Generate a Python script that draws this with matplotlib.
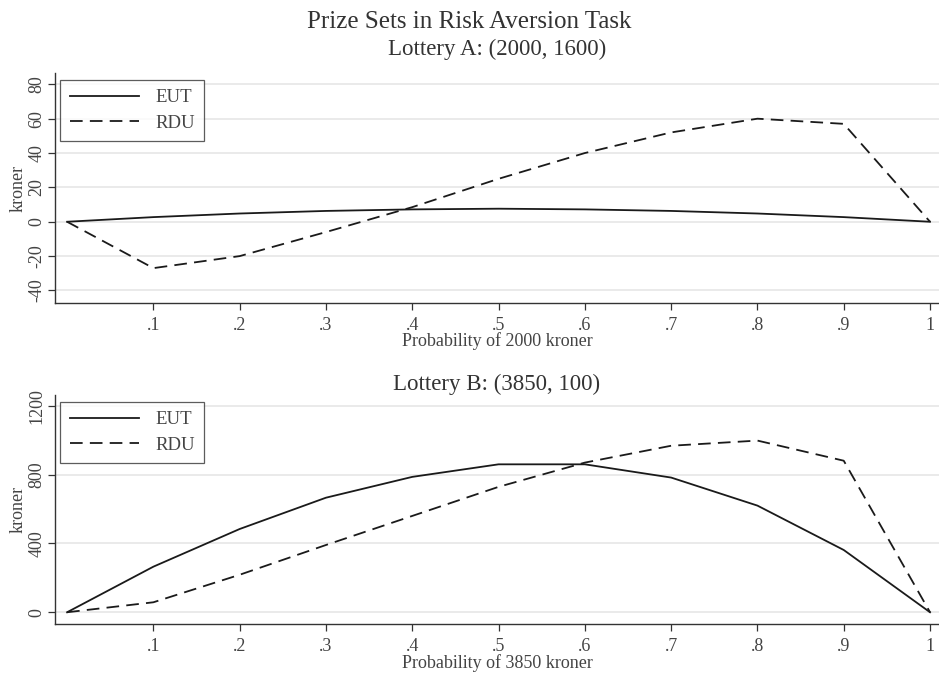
import numpy as np
import matplotlib
matplotlib.use('Agg')
import matplotlib.pyplot as plt

plt.rcParams['font.family'] = ['Liberation Serif', 'DejaVu Serif']

#-------------------------------------------------------------------------------
# Data
#-------------------------------------------------------------------------------
prob      = [0, .1, .2, .3, .4, .5, .6, .7, .8, .9, 1]
a_eut     = [0, 2.7, 4.8, 6.3, 7.2, 7.6, 7.2, 6.3, 4.8, 2.7, 0]
a_rdu     = [0, -27, -20, -6, 8.5, 25, 40, 52, 60, 57, 0]
b_eut     = [0, 265, 484, 666, 787, 860, 860, 783, 620, 362, 0]
b_rdu     = [0, 58, 218, 391, 560, 729, 870, 968, 998, 881, 0]
xticks    = [.1, .2, .3, .4, .5, .6, .7, .8, .9, 1]
xticklbl  = ['.1', '.2', '.3', '.4', '.5', '.6', '.7', '.8', '.9', '1']
a_yticks  = [-40, -20, 0, 20, 40, 60, 80]
b_yticks  = [0, 400, 800, 1200]

#-------------------------------------------------------------------------------
# Figure
#-------------------------------------------------------------------------------
W, H = 939, 675
fig = plt.figure(figsize=(W/100, H/100), dpi=100)
lc = '#1a1a1a'
gc = '#e6e6e6'
fs = 13

def panel(rect, eut, rdu, yticks, ylim, title, xlabel, tpad):
    ax = fig.add_axes(rect)
    ax.plot(prob, eut, color=lc, lw=1.3, label='EUT')
    ax.plot(prob, rdu, color=lc, lw=1.3, dashes=(7, 4), label='RDU')
    ax.set_xlim(-0.014, 1.0104)
    ax.set_ylim(*ylim)
    ax.set_xticks(xticks)
    ax.set_xticklabels(xticklbl)
    ax.set_yticks(yticks)
    ax.set_yticklabels([str(t) for t in yticks], rotation=90, va='center')
    for t in yticks:
        ax.axhline(t, color=gc, lw=1.2, zorder=0)
    for s in ['top', 'right']:
        ax.spines[s].set_visible(False)
    for s in ['left', 'bottom']:
        ax.spines[s].set_color('#333333')
        ax.spines[s].set_linewidth(1.0)
    ax.tick_params(direction='out', length=5, width=0.9, color='#333333',
                   labelsize=fs, labelcolor='#444444', pad=2)
    ax.tick_params(axis='x', pad=5)
    ax.set_xlabel(xlabel, fontsize=fs, color='#444444', labelpad=-1)
    ax.set_ylabel('kroner', fontsize=fs, color='#444444', labelpad=1)
    ax.set_title(title, fontsize=16.5, color='#333333', pad=tpad)
    leg = ax.legend(loc='upper left', bbox_to_anchor=(0.006, 0.97),
                    fontsize=13.5, frameon=True, fancybox=False,
                    handlelength=3.7, handletextpad=0.85, borderpad=0.5,
                    labelspacing=0.45, borderaxespad=0.0)
    leg.get_frame().set_edgecolor('#333333')
    leg.get_frame().set_linewidth(0.9)
    for txt in leg.get_texts():
        txt.set_color('#444444')
    return ax

panel([55/W, 1-303/H, 1-55/W, (303-73)/H], a_eut, a_rdu, a_yticks,
      (-47.3, 86.6), 'Lottery A: (2000, 1600)', 'Probability of 2000 kroner', 13)
panel([55/W, 1-624.3/H, 1-55/W, (624.3-395)/H], b_eut, b_rdu, b_yticks,
      (-70, 1263), 'Lottery B: (3850, 100)', 'Probability of 3850 kroner', 2)

fig.text(0.5, 1-22/H, 'Prize Sets in Risk Aversion Task', ha='center', va='center',
         fontsize=18, color='#333333')

fig.savefig('out.png', dpi=100)
